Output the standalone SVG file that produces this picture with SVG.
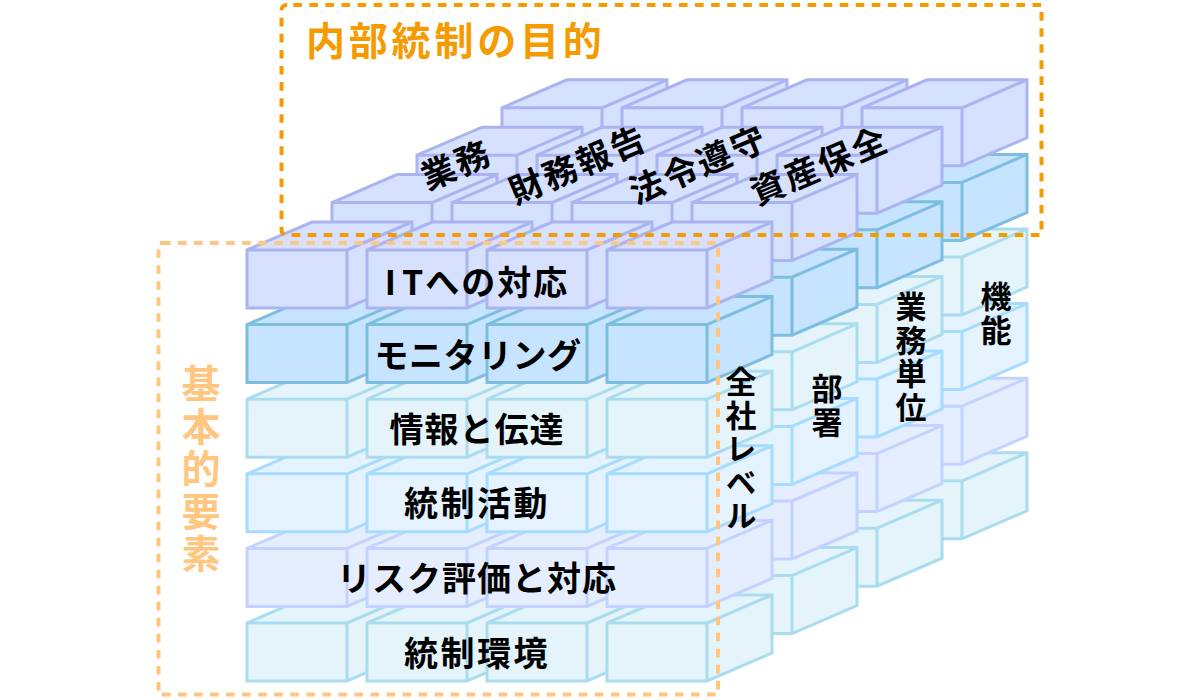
<svg xmlns="http://www.w3.org/2000/svg" width="1200" height="700" viewBox="0 0 1200 700">
<style>
.r-it{fill:#d6e0ff;stroke:#aab4f0}
.r-mon{fill:#c6e4ff;stroke:#7dbde0}
.r-info{fill:#e4f4fa;stroke:#aadcf0}
.r-act{fill:#e4f3ff;stroke:#a6dcff}
.r-risk{fill:#e4eeff;stroke:#c3d2ff}
.box{stroke-width:3;stroke-linejoin:miter}
text{font-family:"Noto Sans CJK JP","Noto Sans",sans-serif;font-weight:700;fill:#000}
.lab{font-size:34px;letter-spacing:1px;text-anchor:middle}
.rot{font-size:34px;letter-spacing:2.5px;text-anchor:middle}
.v{font-size:31px;letter-spacing:2.5px;writing-mode:vertical-rl}
.dash{fill:none;stroke-width:4}
</style>
<defs>
<path id="box" class="box" d="M0 0L65 -28H165V30L100 58H0ZM0 0H100V58M100 0L165 -28"/>
<g id="row">
<use href="#box" x="0"/><use href="#box" x="120"/><use href="#box" x="240"/><use href="#box" x="360"/>
</g>
<g id="stack">
<use href="#row" class="r-info" x="247" y="623"/>
<use href="#row" class="r-risk" x="247" y="548.4"/>
<use href="#row" class="r-act" x="247" y="473.8"/>
<use href="#row" class="r-info" x="247" y="399.2"/>
<use href="#row" class="r-mon" x="247" y="324.6"/>
<use href="#row" class="r-it" x="247" y="250"/>
</g>
</defs>
<g id="cube">
<use id="layer-3" href="#stack" x="255" y="-142.2"/>
<use id="layer-2" href="#stack" x="170" y="-94.8"/>
<use id="layer-1" href="#stack" x="85" y="-47.4"/>
<use id="layer-0" href="#stack"/>
</g>
<g id="purpose-frame">
<path class="dash" d="M293.3 5H1041.5V235H286.5a5 5 0 0 1 -5 -5V10a5 5 0 0 1 5 -5H293.3" stroke="#f59b00" stroke-dasharray="8.6 7.47"/>
</g>
<g id="element-frame">
<path class="dash" d="M162 243H718V694.5H158.5V243H162" stroke="#ffc680" stroke-dasharray="8.6 7.43"/>
</g>
<g id="titles">
<text x="306" y="55" font-size="39" letter-spacing="3.8" style="fill:#f59b00">内部統制の目的</text>
<text x="201" y="364" font-size="39" letter-spacing="3.4" style="fill:#ffc680;writing-mode:vertical-rl">基本的要素</text>
</g>
<g id="row-labels">
<text class="lab" x="477" y="295" style="letter-spacing:2px">I<tspan dx="4">T</tspan>への対応</text>
<text class="lab" x="478" y="368" style="letter-spacing:.5px">モニタリング</text>
<text class="lab" x="477" y="442">情報と伝達</text>
<text class="lab" x="477" y="516" style="letter-spacing:2.5px">統制活動</text>
<text class="lab" x="477" y="591">リスク評価と対応</text>
<text class="lab" x="477" y="666" style="letter-spacing:2.5px">統制環境</text>
</g>
<g id="purpose-labels">
<text class="rot" transform="translate(457 166) rotate(-23)" y="11">業務</text>
<text class="rot" transform="translate(578.5 166) rotate(-23)" y="11">財務報告</text>
<text class="rot" transform="translate(699 166) rotate(-23)" y="11">法令遵守</text>
<text class="rot" transform="translate(820 167) rotate(-23)" y="11">資産保全</text>
</g>
<g id="unit-labels">
<text class="v" x="741" y="366">全社レベル</text>
<text class="v" x="827" y="373">部署</text>
<text class="v" x="911" y="291">業務単位</text>
<text class="v" x="996" y="281">機能</text>
</g>
</svg>
